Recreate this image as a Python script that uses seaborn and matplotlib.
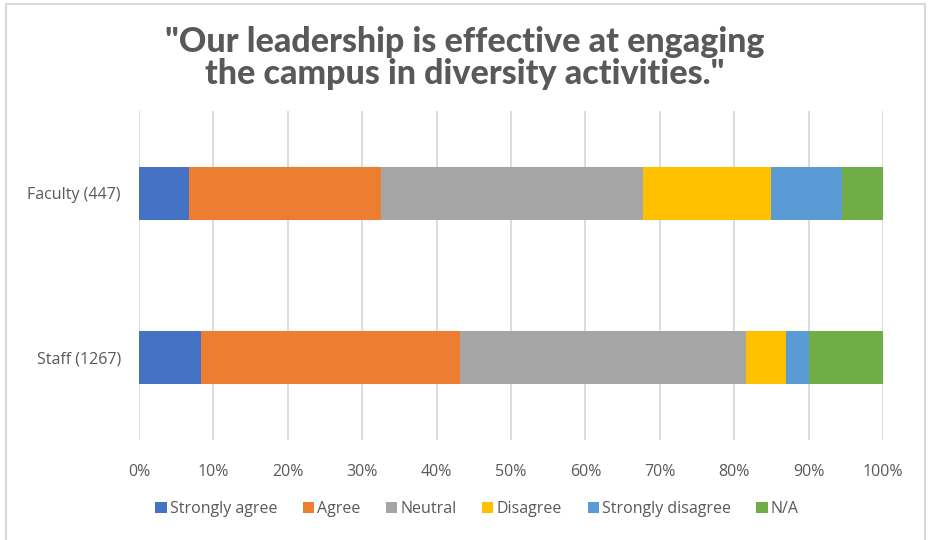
import numpy as np
import matplotlib
matplotlib.use("Agg")
import matplotlib.pyplot as plt
import pandas as pd
import seaborn as sns
from matplotlib.patches import Rectangle, Patch

# Survey groups and response shares (percent)
groups = ["Faculty (447)", "Staff (1267)"]
responses = ["Strongly agree", "Agree", "Neutral", "Disagree", "Strongly disagree", "N/A"]
faculty = [6.7, 25.8, 35.3, 17.2, 9.5, 5.5]
staff = [8.4, 34.7, 38.5, 5.4, 3.1, 9.9]
colors = ["#4472C4", "#ED7D31", "#A5A5A5", "#FFC000", "#5B9BD5", "#70AD47"]

sns.set_style("white")
plt.rcParams["font.family"] = ["Open Sans", "DejaVu Sans"]

df = pd.DataFrame([faculty, staff], index=groups, columns=responses)
cum = df.cumsum(axis=1)

fig = plt.figure(figsize=(9.3, 5.4), dpi=100)
ax = fig.add_axes([139 / 930, 1 - 440 / 540, 744 / 930, 329 / 540])

# Stacked bars: draw cumulative totals from the last segment to the first
for resp, col in reversed(list(zip(responses, colors))):
    sns.barplot(x=cum[resp].values, y=groups, color=col, orient="h",
                width=0.32, ax=ax, saturation=1, linewidth=0, zorder=3)

ax.set_xlim(0, 100)
ax.set_xticks(np.arange(0, 101, 10))
ax.set_xticklabels([f"{t}%" for t in range(0, 101, 10)])
ax.grid(axis="x", color="#d9d9d9", linewidth=1.3, zorder=0)
ax.set_axisbelow(True)
for s in ax.spines.values():
    s.set_visible(False)
ax.tick_params(axis="both", length=0, labelsize=11.5, labelcolor="#595959")
ax.tick_params(axis="x", pad=17)
ax.tick_params(axis="y", pad=13)
ax.set_xlabel("")
ax.set_ylabel("")

fig.text(0.5, 0.893, "\"Our leadership is effective at engaging\nthe campus in diversity activities.\"",
         ha="center", va="center", fontsize=24.5, fontweight="black",
         color="#595959", family=["Lato", "DejaVu Sans"], linespacing=1.0)

handles = [Patch(facecolor=c, edgecolor="none") for c in colors]
fig.legend(handles, responses, loc="center", bbox_to_anchor=(0.513, 0.057), ncol=6,
           frameon=False, fontsize=11.5, labelcolor="#595959",
           handlelength=0.7, handleheight=0.7, handletextpad=0.2, columnspacing=1.6)

fig.patches.append(Rectangle((6 / 930, -0.05), 919 / 930, 1.05 - 4 / 540,
                             transform=fig.transFigure, fill=False,
                             edgecolor="#d9d9d9", linewidth=1.5))

fig.savefig("out.png", dpi=100)
